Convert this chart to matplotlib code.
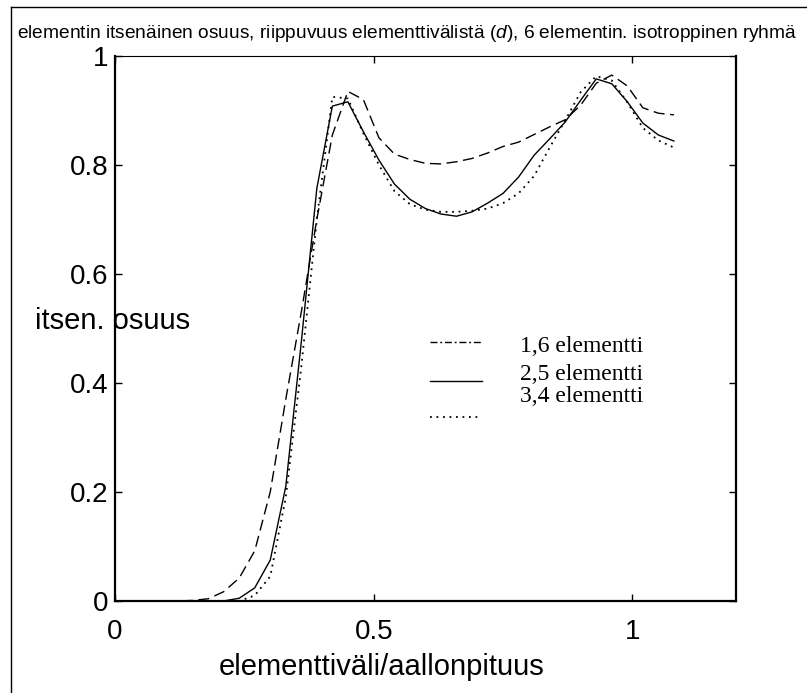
import matplotlib
matplotlib.use("Agg")
import matplotlib.pyplot as plt
from matplotlib.lines import Line2D
from matplotlib.ticker import FormatStrFormatter

plt.rcParams["font.family"] = "Liberation Sans"
plt.rcParams["mathtext.fontset"] = "custom"
plt.rcParams["mathtext.rm"] = "Liberation Sans"
plt.rcParams["mathtext.it"] = "Liberation Sans:italic"

# element spacing / wavelength
spacing = [0.00, 0.03, 0.06, 0.09, 0.12, 0.15, 0.18, 0.21, 0.24, 0.27,
           0.30, 0.33, 0.36, 0.39, 0.42, 0.45, 0.48, 0.51, 0.54, 0.57,
           0.60, 0.63, 0.66, 0.69, 0.72, 0.75, 0.78, 0.81, 0.84, 0.87,
           0.90, 0.93, 0.96, 0.99, 1.02, 1.05, 1.08]

# self-contribution of the element pairs
pair16 = [0.0, 0.0, 0.0, 0.0, 0.0, 0.001, 0.004, 0.017, 0.042, 0.092,
          0.200, 0.370, 0.530, 0.700, 0.855, 0.935, 0.920, 0.850, 0.820, 0.810,
          0.803, 0.802, 0.806, 0.812, 0.822, 0.834, 0.842, 0.856, 0.870, 0.883,
          0.910, 0.950, 0.965, 0.945, 0.905, 0.895, 0.892]
pair25 = [0.0, 0.0, 0.0, 0.0, 0.0, 0.0, 0.0, 0.0, 0.005, 0.024,
          0.075, 0.210, 0.475, 0.757, 0.908, 0.916, 0.861, 0.809, 0.765, 0.737,
          0.720, 0.710, 0.706, 0.714, 0.730, 0.748, 0.778, 0.818, 0.848, 0.879,
          0.919, 0.958, 0.949, 0.916, 0.877, 0.855, 0.844]
pair34 = [0.0, 0.0, 0.0, 0.0, 0.0, 0.0, 0.0, 0.0, 0.0, 0.010,
          0.045, 0.190, 0.430, 0.700, 0.925, 0.922, 0.858, 0.800, 0.752, 0.728,
          0.718, 0.714, 0.714, 0.716, 0.720, 0.730, 0.748, 0.780, 0.832, 0.882,
          0.934, 0.963, 0.955, 0.915, 0.868, 0.845, 0.832]

series_labels = ["1,6 elementti", "2,5 elementti", "3,4 elementti"]
x_ticks = [0, 0.5, 1]
y_ticks = [0, 0.2, 0.4, 0.6, 0.8, 1]

fig = plt.figure(figsize=(8.07, 6.93), dpi=100)
ax = fig.add_axes([0.1425, 0.1328, 0.7695, 0.7864])

ax.plot(spacing, pair16, color="black", lw=1.0, dashes=(8, 4))
ax.plot(spacing, pair25, color="black", lw=1.0)
ax.plot(spacing, pair34, color="black", lw=1.3, dashes=(1, 2.6))

ax.set_xlim(0, 1.2)
ax.set_ylim(0, 1)
ax.set_xticks(x_ticks)
ax.set_yticks(y_ticks)
ax.xaxis.set_major_formatter(FormatStrFormatter("%g"))
ax.yaxis.set_major_formatter(FormatStrFormatter("%g"))
ax.tick_params(direction="in", top=True, right=True, length=5, width=1,
               labelsize=20)
ax.tick_params(axis="y", pad=5)
ax.tick_params(axis="x", pad=13)
for side in ["left", "right", "bottom"]:
    ax.spines[side].set_linewidth(1.6)
ax.spines["top"].set_linewidth(0.8)

# hand-made key inside the plot
key_styles = [dict(dashes=(5, 2, 1.4, 2)), dict(), dict(dashes=(1, 2.6), lw=1.3)]
key_line_y = [0.475, 0.404, 0.338]
key_text_y = [0.457, 0.4055, 0.365]
for label, style, ly, ty in zip(series_labels, key_styles, key_line_y, key_text_y):
    kw = dict(color="black", lw=1.0)
    kw.update(style)
    ax.plot([0.507, 0.591], [ly, ly], transform=ax.transAxes, **kw)
    ax.text(0.652, ty, label, transform=ax.transAxes, fontsize=17,
            family="Liberation Serif", va="baseline")

fig.text(17 / 807, 1 - 37.5 / 693,
         "elementin itsenäinen osuus, riippuvuus elementtivälistä ($d$), "
         "6 elementin. isotroppinen ryhmä",
         fontsize=13.8, va="baseline")
fig.text(382 / 807, 18 / 693, "elementtiväli/aallonpituus", fontsize=21,
         ha="center", va="baseline")
fig.text(35 / 807, 1 - 329 / 693, "itsen. osuus", fontsize=21, va="baseline")

# outer frame (top and left edges)
fig.add_artist(Line2D([11 / 807, 11 / 807], [0, 1 - 6.5 / 693],
                      transform=fig.transFigure, color="black", lw=1))
fig.add_artist(Line2D([11 / 807, 1], [1 - 6.5 / 693, 1 - 6.5 / 693],
                      transform=fig.transFigure, color="black", lw=1))

fig.savefig("out.png", dpi=100)
